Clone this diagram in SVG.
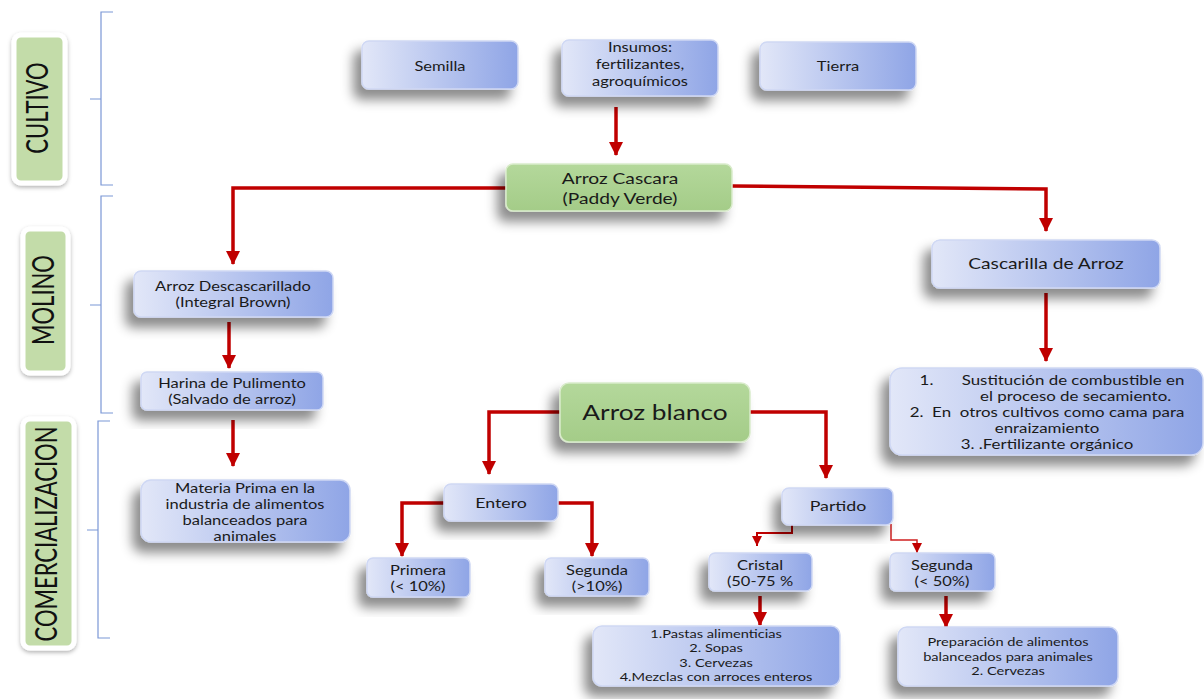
<svg xmlns="http://www.w3.org/2000/svg" width="1204" height="699" viewBox="0 0 1204 699">
<defs>
<linearGradient id="blue" x1="0" y1="0" x2="1" y2="0">
<stop offset="0" stop-color="#e2e7f8"/>
<stop offset="1" stop-color="#8fa5e6"/>
</linearGradient>
<linearGradient id="green" x1="0" y1="0" x2="0" y2="1">
<stop offset="0" stop-color="#b4d89b"/>
<stop offset="1" stop-color="#a4cc88"/>
</linearGradient>
<filter id="sh" x="-30%" y="-30%" width="160%" height="180%">
<feDropShadow dx="-8" dy="10" stdDeviation="6" flood-color="#000" flood-opacity="0.45"/>
</filter>
<filter id="sh2" x="-30%" y="-30%" width="160%" height="160%">
<feDropShadow dx="0" dy="2" stdDeviation="2" flood-color="#000" flood-opacity="0.3"/>
</filter>
<marker id="ar" markerUnits="userSpaceOnUse" markerWidth="16" markerHeight="16" refX="13" refY="8" orient="auto">
<path d="M0,1 L14,8 L0,15 z" fill="#c00000"/>
</marker>
<marker id="ars" markerUnits="userSpaceOnUse" markerWidth="12" markerHeight="12" refX="10" refY="6" orient="auto">
<path d="M0,1 L10,6 L0,11 z" fill="#c00000"/>
</marker>
</defs>
<style>
.b{fill:url(#blue);stroke:#cfd8f4;stroke-width:1.5;filter:url(#sh)}
.g{fill:url(#green);stroke:#d9ebcb;stroke-width:1.5;filter:url(#sh)}
.t{font-family:Lato,"Liberation Sans",sans-serif;font-size:13px;fill:#1a1a1a;text-anchor:middle}
.s{font-size:11.5px}
.lab{fill:#c3dca9;stroke:#ffffff;stroke-width:5;filter:url(#sh2)}
.lt{font-family:Lato,"Liberation Sans",sans-serif;font-size:22px;fill:#111;text-anchor:middle}
.br{fill:none;stroke:#7b97d6;stroke-width:1.2}
.c{fill:none;stroke:#c00000;stroke-width:3.5;marker-end:url(#ar)}
.cs{fill:none;stroke:#c00000;stroke-width:2;marker-end:url(#ars)}
.cl{fill:none;stroke:#d02020;stroke-width:1.5;marker-end:url(#ars)}
</style>

<g id="brackets">
<path class="br" d="M113,12 H101 V99 H90 M101,99 V185 H113"/>
<path class="br" d="M113,196 H101 V305 H90 M101,305 V413 H113"/>
<path class="br" d="M110,421 H98 V530 H87 M98,530 V638 H110"/>
</g>

<g id="label-cultivo">
<rect class="lab" x="14" y="35" width="51" height="148" rx="7"/>
<text class="lt" transform="translate(48,108) scale(1.4,1) rotate(-90)">CULTIVO</text>
</g>
<g id="label-molino">
<rect class="lab" x="23" y="229" width="45" height="144" rx="7"/>
<text class="lt" transform="translate(54,300) scale(1.4,1) rotate(-90)">MOLINO</text>
</g>
<g id="label-comercializacion">
<rect class="lab" x="23" y="419" width="51" height="229" rx="7"/>
<text class="lt" transform="translate(57,534) scale(1.4,1) rotate(-90)">COMERCIALIZACION</text>
</g>

<g id="connectors">
<path class="c" d="M616,107 V155"/>
<path class="c" d="M506,188 H233 V264"/>
<path class="c" d="M732,186 L1046,189 V231"/>
<path class="c" d="M1046,293 V361"/>
<path class="c" d="M229,322 V368"/>
<path class="c" d="M233,420 V466"/>
<path class="c" d="M560,412 H489 V474"/>
<path class="c" d="M750,412 H826 V478"/>
<path class="c" d="M444,503 H402 V556"/>
<path class="c" d="M558,503 H592 V556"/>
<path class="cs" d="M792,525 V533 H757 V546"/>
<path class="cl" d="M891,524 V540 H917 V553"/>
<path class="c" d="M760,596 V625"/>
<path class="c" d="M946,596 V627"/>
</g>

<g id="n-semilla"><rect class="b" x="362" y="41" width="156" height="48" rx="7"/>
<g transform="translate(440,0) scale(1.27,1)"><text class="t" x="0" y="71">Semilla</text></g></g>
<g id="n-insumos"><rect class="b" x="562" y="40" width="156" height="56" rx="7"/>
<g transform="translate(640,0) scale(1.27,1)"><text class="t" x="0" y="52">Insumos:</text><text class="t" x="0" y="69">fertilizantes,</text><text class="t" x="0" y="86">agroquímicos</text></g></g>
<g id="n-tierra"><rect class="b" x="760" y="42" width="156" height="48" rx="7"/>
<g transform="translate(838,0) scale(1.27,1)"><text class="t" x="0" y="71">Tierra</text></g></g>

<g id="n-cascara"><rect class="g" x="506" y="164" width="226" height="47" rx="7"/>
<g transform="translate(620,0) scale(1.28,1)"><text class="t" x="0" y="184" style="font-size:15px">Arroz Cascara</text><text class="t" x="0" y="204" style="font-size:15px">(Paddy Verde)</text></g></g>

<g id="n-cascarilla"><rect class="b" x="932" y="240" width="228" height="48" rx="8"/>
<g transform="translate(1046,0) scale(1.28,1)"><text class="t" x="0" y="269" style="font-size:15px">Cascarilla de Arroz</text></g></g>

<g id="n-usos"><rect class="b" x="890" y="368" width="313" height="87" rx="12"/>
<g transform="translate(1047,0) scale(1.3,1)">
<text class="t" x="-98" y="385" style="text-anchor:start">1.</text>
<text class="t" x="20" y="385">Sustitución de combustible en</text>
<text class="t" x="22" y="401">el proceso de secamiento.</text>
<text class="t" x="0" y="417" style="white-space:pre">2.  En  otros cultivos como cama para</text>
<text class="t" x="0" y="433">enraizamiento</text>
<text class="t" x="0" y="449">3. .Fertilizante orgánico</text></g></g>

<g id="n-descascarillado"><rect class="b" x="134" y="271" width="199" height="46" rx="7"/>
<g transform="translate(233,0) scale(1.27,1)"><text class="t" x="0" y="291">Arroz Descascarillado</text><text class="t" x="0" y="307">(Integral Brown)</text></g></g>

<g id="n-harina"><rect class="b" x="141" y="372" width="182" height="38" rx="6"/>
<g transform="translate(232,0) scale(1.27,1)"><text class="t" x="0" y="388">Harina de Pulimento</text><text class="t" x="0" y="404">(Salvado de arroz)</text></g></g>

<g id="n-materia"><rect class="b" x="141" y="480" width="209" height="62" rx="10"/>
<g transform="translate(245,0) scale(1.27,1)"><text class="t" x="0" y="493">Materia Prima en la</text><text class="t" x="0" y="509">industria de alimentos</text>
<text class="t" x="0" y="525">balanceados para</text><text class="t" x="0" y="541">animales</text></g></g>

<g id="n-blanco"><rect class="g" x="560" y="383" width="190" height="59" rx="9"/>
<g transform="translate(655,0) scale(1.25,1)"><text class="t" x="0" y="420" style="font-size:21px">Arroz blanco</text></g></g>

<g id="n-entero"><rect class="b" x="444" y="484" width="114" height="37" rx="7"/>
<g transform="translate(501,0) scale(1.27,1)"><text class="t" x="0" y="508" style="font-size:14px">Entero</text></g></g>
<g id="n-primera"><rect class="b" x="367" y="558" width="103" height="39" rx="6"/>
<g transform="translate(418,0) scale(1.27,1)"><text class="t" x="0" y="575">Primera</text><text class="t" x="0" y="591">(&lt; 10%)</text></g></g>
<g id="n-segunda1"><rect class="b" x="545" y="558" width="104" height="38" rx="6"/>
<g transform="translate(597,0) scale(1.27,1)"><text class="t" x="0" y="575">Segunda</text><text class="t" x="0" y="591">(&gt;10%)</text></g></g>

<g id="n-partido"><rect class="b" x="782" y="488" width="111" height="37" rx="7"/>
<g transform="translate(838,0) scale(1.27,1)"><text class="t" x="0" y="511" style="font-size:14px">Partido</text></g></g>
<g id="n-cristal"><rect class="b" x="709" y="553" width="103" height="38" rx="6"/>
<g transform="translate(760,0) scale(1.27,1)"><text class="t" x="0" y="570">Cristal</text><text class="t" x="0" y="586">(50-75 %</text></g></g>
<g id="n-segunda2"><rect class="b" x="890" y="553" width="105" height="38" rx="6"/>
<g transform="translate(942,0) scale(1.27,1)"><text class="t" x="0" y="570">Segunda</text><text class="t" x="0" y="586">(&lt; 50%)</text></g></g>

<g id="n-pastas"><rect class="b" x="593" y="626" width="247" height="60" rx="9"/>
<g transform="translate(716,0) scale(1.27,1)"><text class="t s" x="0" y="638">1.Pastas alimenticias</text><text class="t s" x="0" y="652">2. Sopas</text>
<text class="t s" x="0" y="667">3. Cervezas</text><text class="t s" x="0" y="681">4.Mezclas con arroces enteros</text></g></g>

<g id="n-preparacion"><rect class="b" x="898" y="627" width="220" height="59" rx="9"/>
<g transform="translate(1008,0) scale(1.27,1)"><text class="t s" x="0" y="646">Preparación de alimentos</text><text class="t s" x="0" y="661">balanceados para animales</text>
<text class="t s" x="0" y="675">2. Cervezas</text></g></g>
</svg>
